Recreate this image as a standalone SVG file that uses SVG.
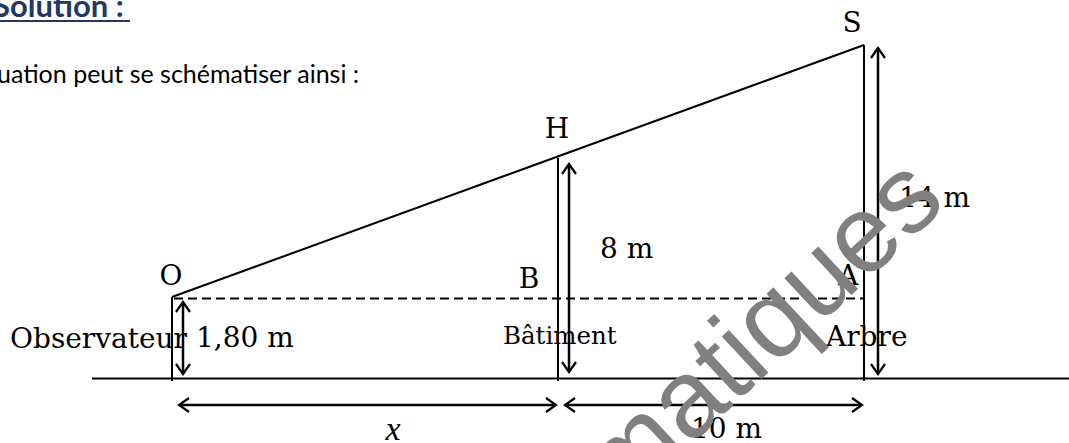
<svg xmlns="http://www.w3.org/2000/svg" width="1069" height="443" viewBox="0 0 1069 443">
<style>
.lbl{font-family:"DejaVu Serif","Liberation Serif",serif;font-size:28px;fill:#000}
.sm{font-size:24.5px}
.ln{stroke:#000;stroke-width:2;fill:none}
.arr{stroke:#000;stroke-width:2.5;fill:none;marker-start:url(#ah);marker-end:url(#ah)}
.hdr{font-family:Lato,"Open Sans",sans-serif;font-size:31px;fill:#1f3864;font-weight:bold}
.txt{font-family:Lato,"Open Sans",sans-serif;font-size:25px;fill:#000}
</style>
<defs>
<marker id="ah" markerUnits="userSpaceOnUse" markerWidth="14" markerHeight="16" viewBox="0 0 12 16" refX="11" refY="8" orient="auto-start-reverse">
<path d="M1,1 L11,8 L1,15" fill="none" stroke="#000" stroke-width="2.2"/>
</marker>
</defs>
<g id="header">
<text class="hdr" x="-7" y="17">Solution :</text>
<line x1="0" y1="21" x2="130" y2="21" stroke="#1f3864" stroke-width="2"/>
<text class="txt" x="-3" y="83">uation peut se schématiser ainsi :</text>
</g>
<g id="connectors">
<line class="ln" x1="92" y1="378.5" x2="1069" y2="378.5"/>
<line class="ln" x1="172" y1="297" x2="172" y2="381"/>
<line class="ln" x1="558" y1="158" x2="558" y2="381"/>
<line class="ln" x1="864" y1="45" x2="864" y2="381"/>
<line class="ln" x1="172" y1="297" x2="864" y2="45"/>
<line class="ln" x1="174" y1="298.5" x2="864" y2="298.5" stroke-dasharray="9,5"/>
<line class="arr" x1="183" y1="302" x2="183" y2="374"/>
<line class="arr" x1="569" y1="164" x2="569" y2="372"/>
<line class="arr" x1="878" y1="48" x2="878" y2="374"/>
<line class="arr" x1="179" y1="405" x2="556" y2="405"/>
<line class="arr" x1="565" y1="405" x2="862" y2="405"/>
</g>
<g id="node-S"><text class="lbl" x="852" y="32" text-anchor="middle">S</text></g>
<g id="node-H"><text class="lbl" x="557" y="138" text-anchor="middle">H</text></g>
<g id="node-O"><text class="lbl" x="171" y="285" text-anchor="middle">O</text></g>
<g id="node-B"><text class="lbl" x="529" y="288" text-anchor="middle">B</text></g>
<g id="node-A"><text class="lbl" x="848" y="285" text-anchor="middle">A</text></g>
<g id="labels">
<text class="lbl" x="10" y="348">Observateur</text>
<text class="lbl" x="196" y="347">1,80 m</text>
<text class="lbl sm" x="503" y="344">Bâtiment</text>
<text class="lbl" x="826" y="346">Arbre</text>
<text class="lbl" x="600" y="258">8 m</text>
<text class="lbl" x="899" y="207">14 m</text>
<text x="393" y="440" font-family="Liberation Serif,serif" font-style="italic" font-size="34" text-anchor="middle">x</text>
<text class="lbl" x="691" y="438">10 m</text>
</g>
<g id="watermark">
<text x="622" y="509" transform="rotate(-43 622 509)" font-family="Liberation Sans,Arial,sans-serif" font-size="110" fill="#808080">matiques</text>
</g>
</svg>
